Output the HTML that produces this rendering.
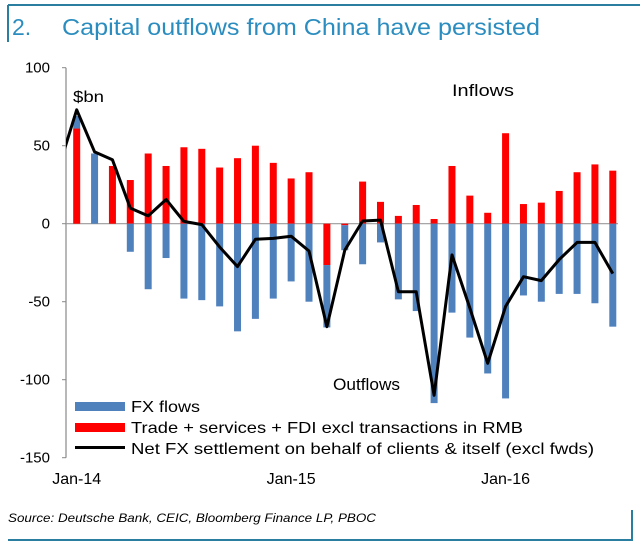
<!DOCTYPE html>
<html><head><meta charset="utf-8"><style>
body{margin:0;background:#fff;width:640px;height:546px;overflow:hidden;font-family:"Liberation Sans",sans-serif}
svg text{font-family:"Liberation Sans",sans-serif}
</style></head><body>
<svg id="c" width="640" height="546" xmlns="http://www.w3.org/2000/svg">
<line x1="8" y1="5" x2="640" y2="5" stroke="#2a7fa0" stroke-width="2"/>
<line x1="8" y1="5" x2="8" y2="42" stroke="#2a7fa0" stroke-width="2"/>
<line x1="8" y1="540" x2="633" y2="540" stroke="#2a7fa0" stroke-width="2"/>
<line x1="632" y1="510" x2="632" y2="540" stroke="#2a7fa0" stroke-width="2"/>
<text x="12" y="35" font-size="23" fill="#2b8dbf">2.</text>
<text x="62" y="35" font-size="23" fill="#2b8dbf" textLength="478" lengthAdjust="spacingAndGlyphs">Capital outflows from China have persisted</text>
<g id="axes"></g>
<g id="bars"></g>
<g id="line"></g>
<text x="73" y="102" font-size="16" textLength="31" lengthAdjust="spacingAndGlyphs">$bn</text>
<text x="452" y="96" font-size="17" textLength="62" lengthAdjust="spacingAndGlyphs">Inflows</text>
<text x="333" y="390" font-size="17" textLength="67" lengthAdjust="spacingAndGlyphs">Outflows</text>
<g>
<rect x="75" y="402" width="50" height="9" fill="#4f81bd"/>
<text x="131" y="412" font-size="16" textLength="69" lengthAdjust="spacingAndGlyphs">FX flows</text>
<rect x="75" y="423" width="50" height="9" fill="#ff0000"/>
<text x="131" y="433" font-size="16" textLength="392" lengthAdjust="spacingAndGlyphs">Trade + services + FDI excl transactions in RMB</text>
<rect x="75" y="446" width="50" height="3" fill="#000"/>
<text x="131" y="454" font-size="16" textLength="463" lengthAdjust="spacingAndGlyphs">Net FX settlement on behalf of clients &amp; itself (excl fwds)</text>
</g>
<text x="8" y="522" font-size="12" font-style="italic" textLength="368" lengthAdjust="spacingAndGlyphs">Source: Deutsche Bank, CEIC, Bloomberg Finance LP, PBOC</text>
</svg>
<script>
const fxFlows=[8,45,0,-18,-42,-22,-48,-49,-53,-69,-61,-48,-37,-50,-40,-16,-26,-12,-48.5,-56,-115,-57,-73,-96,-112,-46,-50,-45,-45,-51,-66];
const tradeFlows=[61,0,37,28,45,37,49,48,36,42,50,39,29,33,-26.5,-1,27,14,5,12,3,37,18,7,58,12.6,13.5,21,33,38,34];
const netFx=[36,73,46,41,10,5,15.5,1.5,-0.6,-15,-27.5,-10,-9.4,-8,-17.5,-66,-17,1.7,2.3,-43.6,-43.6,-110,-20,-54,-89.5,-53,-34,-36.5,-23,-12,-12,-32];
const yTicks=[100,50,0,-50,-100,-150];
const xLabels=[{i:0,t:"Jan-14"},{i:12,t:"Jan-15"},{i:24,t:"Jan-16"}];
const NS="http://www.w3.org/2000/svg";
const x=i=>76.7+i*17.87;
const y=v=>223.7-v*1.56;
function mk(tag,attrs,parent){const e=document.createElementNS(NS,tag);for(const k in attrs)e.setAttribute(k,attrs[k]);parent.appendChild(e);return e;}
const axes=document.getElementById('axes'),bars=document.getElementById('bars'),lg=document.getElementById('line');
let e=mk('line',{x1:66,y1:y(100),x2:66,y2:y(-150),stroke:'#888','stroke-width':1.2},axes);


yTicks.forEach(t=>{
 let tk=mk('line',{x1:62,y1:y(t),x2:66,y2:y(t),stroke:'#888'},axes);
 
 
 let tl=mk('text',{x:50,y:y(t)+5,'font-size':15,'text-anchor':'end'},axes);
 tl.textContent=t;
 
 
});
xLabels.forEach(l=>{
 let tl=mk('text',{x:x(l.i),y:484,'font-size':16,'text-anchor':'middle'},axes);
 tl.textContent=l.t;
 
 
});
fxFlows.forEach((f,i)=>{
 const r=tradeFlows[i];
 let pos=0,neg=0;
 [[r,'#ff0000','bar-trade'],[f,'#4f81bd','bar-fx']].forEach(([v,c,n])=>{
  if(v===0)return;
  let a,b;
  if(v>0){a=pos;b=pos+v;pos=b;}else{a=neg;b=neg+v;neg=b;}
  const y1=Math.min(y(a),y(b)),h=Math.abs(y(a)-y(b));
  let rc=mk('rect',{x:x(i)-3.5,y:y1,width:7,height:h,fill:c},bars);
  
  
 });
});
let z=mk('line',{x1:66,y1:y(0),x2:618,y2:y(0),stroke:'#999','stroke-width':1.2},axes);


const cp=mk('clipPath',{id:'clip'},lg);mk('rect',{x:66,y:0,width:580,height:546},cp);
const pts=netFx.map((v,k)=>x(k-1).toFixed(1)+','+y(v).toFixed(1)).join(' ');
let pl=mk('polyline',{points:pts,fill:'none',stroke:'#000','stroke-width':3,'stroke-linejoin':'round','clip-path':'url(#clip)'},lg);


</script>
</body></html>
